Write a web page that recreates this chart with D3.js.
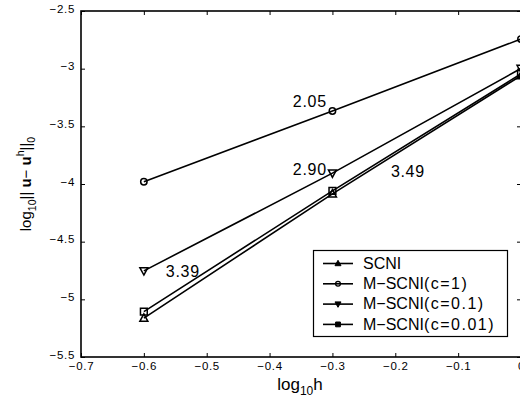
<!DOCTYPE html>
<html>
<head>
<meta charset="utf-8">
<script src="https://cdn.jsdelivr.net/npm/d3@7"></script>
<style>
  html, body { margin: 0; padding: 0; background: #fff; }
  svg { display: block; font-family: "Liberation Sans", Arial, Helvetica, sans-serif; }
</style>
</head>
<body>
<svg id="chart" width="520" height="407"></svg>
<script>
// log10(h) sample points
const logH = [-0.6, -0.3, 0];

// log10 of the L2 error for each integration scheme
const scni     = [-5.163, -4.085, -3.06];
const mscni1   = [-3.98, -3.367, -2.743];
const mscni01  = [-4.753, -3.906, -2.998];
const mscni001 = [-5.106, -4.06, -3.045];

const seriesBase = ["SCNI", "M\u2212SCNI", "M\u2212SCNI", "M\u2212SCNI"];
const seriesParam = ["", "(c=1)", "(c=0.1)", "(c=0.01)"];
const seriesMarkers = ["triangleUp", "circle", "triangleDown", "square"];
const seriesValues = [scni, mscni1, mscni01, mscni001];

const xTicks = [-0.7, -0.6, -0.5, -0.4, -0.3, -0.2, -0.1, 0];
const yTicks = [-2.5, -3, -3.5, -4, -4.5, -5, -5.5];

// convergence-rate annotations: text and baseline-start position in data units
const rateLabels = ["2.05", "2.90", "3.49", "3.39"];
const rateX = [-0.363, -0.363, -0.207, -0.565];
const rateY = [-3.332, -3.922, -3.939, -4.804];

const svg = d3.select("#chart");
const m = { left: 81, top: 11, right: 521, bottom: 357 };

const x = d3.scaleLinear().domain([-0.7, 0]).range([m.left, m.right]);
const y = d3.scaleLinear().domain([-5.5, -2.5]).range([m.bottom, m.top]);

const fmt = v => (v === 0 ? "0" : String(v).replace("-", "\u2212"));

// axes with inward ticks on all four sides
const axisBottom = d3.axisBottom(x).tickValues(xTicks).tickSize(-4).tickPadding(7).tickFormat(fmt);
const axisTop = d3.axisTop(x).tickValues(xTicks).tickSize(-4).tickFormat("");
const axisLeft = d3.axisLeft(y).tickValues(yTicks).tickSize(-4).tickPadding(6).tickFormat(fmt);
const axisRight = d3.axisRight(y).tickValues(yTicks).tickSize(-4).tickFormat("");

function styleAxis(g) {
  g.select(".domain").remove();
  g.selectAll(".tick line").attr("stroke", "#000").attr("stroke-width", 1);
  g.selectAll(".tick text").attr("fill", "#000").attr("font-size", 11.5).attr("letter-spacing", 0.7);
}

svg.append("g").attr("transform", `translate(0,${m.bottom})`).call(axisBottom).call(styleAxis)
  .selectAll(".tick text").attr("dy", "0.5em");
svg.append("g").attr("transform", `translate(0,${m.top})`).call(axisTop).call(styleAxis);
svg.append("g").attr("transform", `translate(${m.left},0)`).call(axisLeft).call(styleAxis)
  .selectAll(".tick text").attr("dy", "0.1em");
svg.append("g").attr("transform", `translate(${m.right},0)`).call(axisRight).call(styleAxis);

// frame
svg.append("rect")
  .attr("x", m.left).attr("y", m.top)
  .attr("width", m.right - m.left).attr("height", m.bottom - m.top)
  .attr("fill", "none").attr("stroke", "#000").attr("stroke-width", 1.6);

// marker shapes
function markerPath(type, cx, cy, s) {
  if (type === "square") return `M${cx - s},${cy - s}H${cx + s}V${cy + s}H${cx - s}Z`;
  if (type === "triangleUp") return `M${cx},${cy - s - 0.8}L${cx + s + 0.6},${cy + s - 0.2}L${cx - s - 0.6},${cy + s - 0.2}Z`;
  return `M${cx},${cy + s + 0.8}L${cx + s + 0.6},${cy - s + 0.2}L${cx - s - 0.6},${cy - s + 0.2}Z`;
}
function drawMarker(g, type, cx, cy) {
  if (type === "circle") {
    g.append("circle").attr("cx", cx).attr("cy", cy).attr("r", 3.2)
      .attr("fill", "none").attr("stroke", "#000").attr("stroke-width", 1.5);
  } else {
    g.append("path").attr("d", markerPath(type, cx, cy, 3.4))
      .attr("fill", "none").attr("stroke", "#000").attr("stroke-width", 1.5);
  }
}

const line = d3.line().x(d => x(d[0])).y(d => y(d[1]));
const plot = svg.append("g");

seriesValues.forEach((vals, i) => {
  const pts = logH.map((h, j) => [h, vals[j]]);
  plot.append("path").attr("d", line(pts))
    .attr("fill", "none").attr("stroke", "#000").attr("stroke-width", 1.6);
  pts.forEach(p => drawMarker(plot, seriesMarkers[i], x(p[0]), y(p[1])));
});

// rate annotations
rateLabels.forEach((t, i) => {
  svg.append("text")
    .attr("x", x(rateX[i])).attr("y", y(rateY[i]))
    .attr("font-size", 16).attr("letter-spacing", 0.7).attr("fill", "#000")
    .text(t);
});

// legend
const lg = svg.append("g");
lg.append("rect").attr("x", 313.5).attr("y", 250.5).attr("width", 194).attr("height", 86)
  .attr("fill", "#fff").attr("stroke", "#000").attr("stroke-width", 1.2);
seriesBase.forEach((name, i) => {
  const ly = 263.5 + i * 20.3;
  lg.append("line").attr("x1", 323).attr("x2", 353).attr("y1", ly).attr("y2", ly)
    .attr("stroke", "#000").attr("stroke-width", 1.6);
  if (seriesMarkers[i] === "circle") {
    lg.append("circle").attr("cx", 338).attr("cy", ly).attr("r", 2.4)
      .attr("fill", "none").attr("stroke", "#000").attr("stroke-width", 1.3);
  } else {
    lg.append("path").attr("d", markerPath(seriesMarkers[i], 338, ly, 2.4))
      .attr("fill", "#000").attr("stroke", "#000").attr("stroke-width", 1);
  }
  const t = lg.append("text").attr("x", 363).attr("y", ly + 5.2)
    .attr("font-size", 16).attr("fill", "#000");
  t.append("tspan").text(name);
  t.append("tspan").attr("letter-spacing", 1.5).text(seriesParam[i]);
});

// axis titles
const xt = svg.append("text").attr("x", 300).attr("y", 390)
  .attr("text-anchor", "middle").attr("font-size", 17).attr("fill", "#000");
xt.append("tspan").text("log");
xt.append("tspan").attr("font-size", 12).attr("dy", 5).text("10");
xt.append("tspan").attr("dy", -5).text("h");

const yt = svg.append("text")
  .attr("transform", `translate(31,184) rotate(-90)`)
  .attr("text-anchor", "middle").attr("font-size", 15).attr("fill", "#000");
yt.append("tspan").text("log");
yt.append("tspan").attr("font-size", 10.5).attr("dy", 5).text("10");
yt.append("tspan").attr("dy", -5).text("|| ");
yt.append("tspan").attr("font-weight", "bold").text("u");
yt.append("tspan").text("\u2212 ");
yt.append("tspan").attr("font-weight", "bold").text("u");
yt.append("tspan").attr("font-size", 10.5).attr("dy", -7).text("h");
yt.append("tspan").attr("dy", 7).text("||");
yt.append("tspan").attr("font-size", 10.5).attr("dy", 4).text("0");
</script>
</body>
</html>
